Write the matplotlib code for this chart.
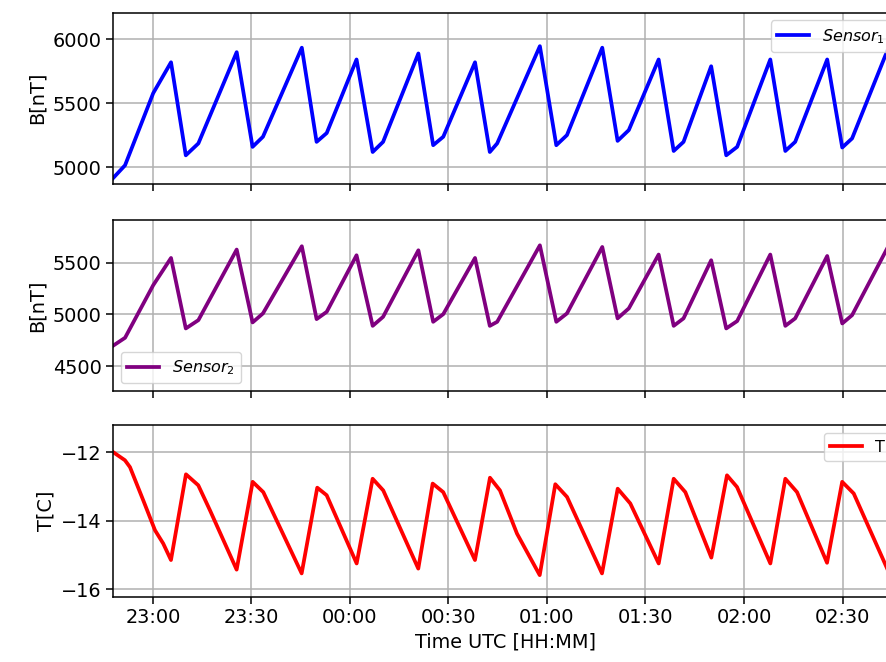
import pandas as pd
import matplotlib.pyplot as plt
import matplotlib.dates as mdates

# magnetometer sensors (HH:MM:SS, nT)
b_time = ["22:47:50", "22:51:30", "23:00:05", "23:05:30", "23:10:00", "23:13:50",
          "23:25:30", "23:30:20", "23:33:30", "23:45:20", "23:49:50", "23:52:55",
          "00:02:00", "00:06:55", "00:10:05", "00:20:50", "00:25:20", "00:28:25",
          "00:38:05", "00:42:35", "00:44:50", "00:57:50", "01:02:50", "01:06:05",
          "01:16:50", "01:21:30", "01:24:55", "01:34:00", "01:38:35", "01:41:35",
          "01:50:00", "01:54:35", "01:57:55", "02:08:00", "02:12:35", "02:15:35",
          "02:25:20", "02:29:55", "02:32:55", "02:43:35", "02:47:10"]
sensor1 = [4915, 5016, 5580, 5821, 5094, 5187,
           5900, 5160, 5239, 5935, 5199, 5268,
           5843, 5120, 5199, 5890, 5173, 5239,
           5821, 5120, 5187, 5947, 5173, 5252,
           5935, 5207, 5291, 5843, 5128, 5199,
           5790, 5094, 5160, 5843, 5128, 5199,
           5843, 5155, 5226, 5908, 6000]
sensor2 = [4698, 4775, 5282, 5544, 4865, 4945,
           5625, 4923, 5010, 5657, 4955, 5025,
           5570, 4890, 4977, 5618, 4929, 5003,
           5544, 4890, 4929, 5666, 4929, 5010,
           5650, 4962, 5058, 5577, 4890, 4962,
           5522, 4865, 4936, 5577, 4890, 4962,
           5563, 4913, 4993, 5635, 5700]

# temperature
t_time = ["22:47:50", "22:51:28", "22:53:00", "22:57:03", "23:00:37", "23:03:08",
          "23:05:29", "23:10:03", "23:13:48", "23:17:22", "23:25:29", "23:30:22",
          "23:33:36", "23:45:17", "23:50:02", "23:52:54", "00:02:02", "00:06:54",
          "00:10:08", "00:20:48", "00:25:11", "00:28:24", "00:38:04", "00:42:38",
          "00:45:41", "00:50:52", "00:57:47", "01:02:32", "01:06:06", "01:16:45",
          "01:21:32", "01:25:22", "01:34:01", "01:38:35", "01:42:08", "01:50:03",
          "01:54:49", "01:57:52", "02:08:01", "02:12:35", "02:16:09", "02:25:17",
          "02:29:54", "02:33:25", "02:43:36", "02:47:10"]
temp = [-12.00, -12.24, -12.44, -13.41, -14.28, -14.67,
        -15.15, -12.65, -12.97, -13.70, -15.43, -12.87,
        -13.17, -15.54, -13.04, -13.26, -15.25, -12.78,
        -13.12, -15.40, -12.92, -13.17, -15.15, -12.75,
        -13.12, -14.38, -15.59, -12.94, -13.31, -15.54,
        -13.07, -13.50, -15.25, -12.78, -13.17, -15.08,
        -12.68, -13.02, -15.25, -12.78, -13.17, -15.23,
        -12.87, -13.21, -15.40, -15.80]


def to_dt(times):
    # evening belongs to the first day, early hours to the next one
    out = []
    for t in times:
        day = "2023-01-01" if int(t[:2]) >= 12 else "2023-01-02"
        out.append(pd.Timestamp(day + " " + t))
    return out


tb = to_dt(b_time)
tt = to_dt(t_time)

plt.rcParams['font.size'] = 13.9
plt.rcParams['axes.linewidth'] = 1.1
plt.rcParams['xtick.major.size'] = 4.8
plt.rcParams['ytick.major.size'] = 4.8
plt.rcParams['xtick.major.width'] = 1.1
plt.rcParams['ytick.major.width'] = 1.1
plt.rcParams['grid.linewidth'] = 1.1

fig = plt.figure(figsize=(8.87, 6.62), dpi=100)
left, width, h = 0.1274, 0.886, 0.259
ax1 = fig.add_axes([left, 0.7221, width, h])
ax2 = fig.add_axes([left, 0.4090, width, h], sharex=ax1)
ax3 = fig.add_axes([left, 0.0986, width, h], sharex=ax1)

ax1.plot(tb, sensor1, color='blue', lw=2.7, label='$Sensor_1$')
ax1.set_ylim(4870, 6210)
ax1.set_yticks([5000, 5500, 6000])
ax1.set_ylabel('B[nT]')
ax1.legend(loc='upper right', fontsize=11.5)

ax2.plot(tb, sensor2, color='purple', lw=2.7, label='$Sensor_2$')
ax2.set_ylim(4260, 5912)
ax2.set_yticks([4500, 5000, 5500])
ax2.set_ylabel('B[nT]')
ax2.legend(loc='lower left', fontsize=11.5)

ax3.plot(tt, temp, color='red', lw=2.7, label='T')
ax3.set_ylim(-16.22, -11.22)
ax3.set_yticks([-16, -14, -12])
ax3.set_ylabel('T[C]')
ax3.legend(loc='upper right', fontsize=11.5)
ax3.set_xlabel('Time UTC [HH:MM]')

ax1.set_xlim(tb[0], tb[-1])
ax3.xaxis.set_major_locator(mdates.MinuteLocator(byminute=[0, 30]))
ax3.xaxis.set_major_formatter(mdates.DateFormatter('%H:%M'))

for ax in (ax1, ax2, ax3):
    ax.grid(True)
for ax in (ax1, ax2):
    plt.setp(ax.get_xticklabels(), visible=False)

fig.savefig('out.png', dpi=100)
